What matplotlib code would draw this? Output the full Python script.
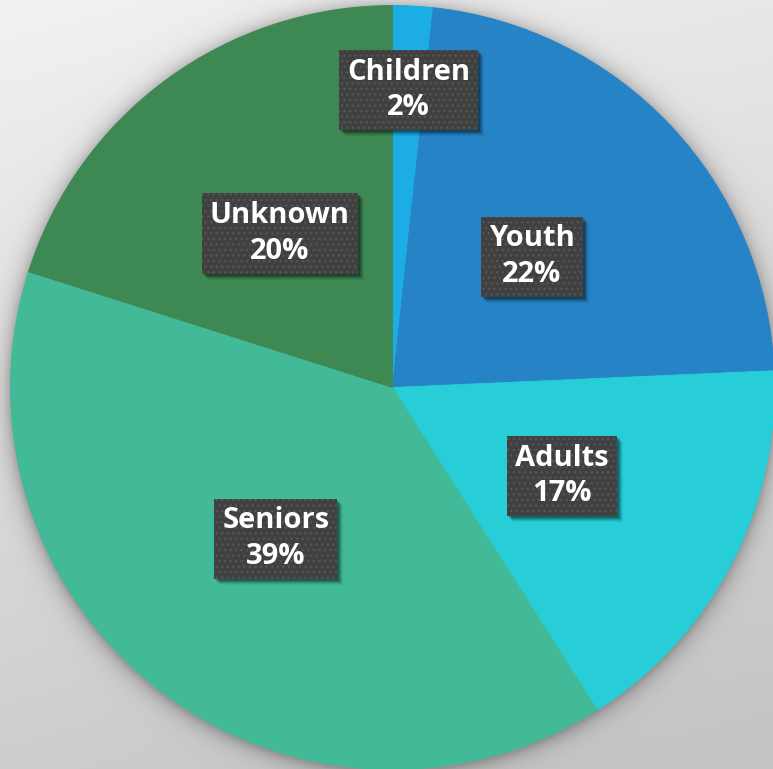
import numpy as np
import matplotlib
matplotlib.use('Agg')
import matplotlib.pyplot as plt
from matplotlib.patheffects import AbstractPathEffect, Normal
from matplotlib.transforms import Affine2D

# ---- data ----
categories = ['Children', 'Youth', 'Adults', 'Seniors', 'Unknown']
values = [1.7, 22.6, 16.7, 38.9, 20.1]
pct_labels = ['2%', '22%', '17%', '39%', '20%']
colors = ['#1CADE4', '#2683C6', '#27CED7', '#42BA97', '#3E8853']

W, H, DPI = 773, 769, 100
fig = plt.figure(figsize=(W / DPI, H / DPI), dpi=DPI)

# pie geometry in pixels (from the top-left corner)
cx, cy, r = 392.5, 387.5, 382.0
ax_rect = [(cx - r) / W, 1 - (cy + r) / H, 2 * r / W, 2 * r / H]

# ---- background gradient with soft pie shadow ----
bg = fig.add_axes([0, 0, 1, 1], zorder=-10)
yy, xx = np.mgrid[0:H, 0:W] + 0.5
val = 242 - 37 * (yy / H) - 10 * (xx / W)
d = np.hypot(xx - cx, yy - (cy + 2))
outside = np.clip(d - r, 0, None)
shadow = 0.26 * np.exp(-outside / 9.0)
val = val * (1 - shadow)
img = np.dstack([val] * 3) / 255.0
bg.imshow(np.clip(img, 0, 1), extent=[0, W, H, 0], aspect='auto',
          interpolation='bilinear')
bg.set_xlim(0, W)
bg.set_ylim(H, 0)
bg.axis('off')


class SoftShadow(AbstractPathEffect):
    """Layered, offset, un-hatched shadow for a label box."""
    def __init__(self, layers):
        super().__init__()
        self.layers = layers

    def draw_path(self, renderer, gc, tpath, affine, rgbFace=None):
        for off, a in self.layers:
            gc0 = renderer.new_gc()
            gc0.copy_properties(gc)
            gc0.set_hatch(None)
            gc0.set_linewidth(0)
            gc0.set_foreground('none')
            gc0.set_alpha(a)
            tr = affine + Affine2D().translate(off, -off)
            renderer.draw_path(gc0, tpath, tr, (0, 0, 0))
            gc0.restore()


# ---- pie ----
ax = fig.add_axes(ax_rect)
wedges, _ = ax.pie(values, colors=colors, startangle=90, counterclock=False,
                   radius=1, wedgeprops=dict(linewidth=0.6))
for w in wedges:
    w.set_edgecolor(w.get_facecolor())
ax.set_xlim(-1, 1)
ax.set_ylim(-1, 1)
ax.set_aspect('equal')
ax.axis('off')

# ---- labels ----
label_dist = [0.78, 0.5, 0.5, 0.5, 0.5]
font = dict(fontsize=21, fontweight='bold',
            family=['Open Sans', 'DejaVu Sans'],
            linespacing=1.3, ha='center', va='center')
for w, cat, pct, dist in zip(wedges, categories, pct_labels, label_dist):
    ang = np.deg2rad((w.theta1 + w.theta2) / 2)
    x, y = dist * np.cos(ang), dist * np.sin(ang)
    t = ax.text(x, y, f'{cat}\n{pct}', color='white',
                bbox=dict(boxstyle='square,pad=0.27', fc='#404040',
                          ec='#555555', lw=0, hatch='...'), **font)
    t.get_bbox_patch().set_path_effects(
        [SoftShadow([(6, 0.06), (5, 0.08), (4, 0.12), (3, 0.16), (2, 0.2)]),
         Normal()])

fig.savefig('out.png', dpi=DPI)
